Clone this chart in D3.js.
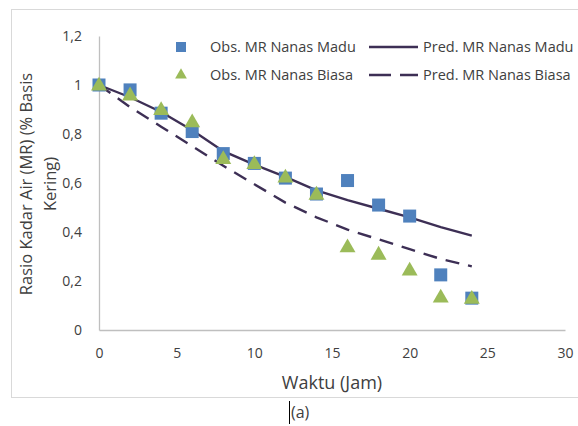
<!DOCTYPE html>
<html>
<head>
<meta charset="utf-8">
<script src="https://cdn.jsdelivr.net/npm/d3@7"></script>
<style>
  body { margin: 0; background: #fff; }
  text { font-family: "Open Sans", "Noto Sans", sans-serif; fill: #404040; }
</style>
</head>
<body>
<div id="chart"></div>
<script>
// time (hours)
var waktu = [0, 2, 4, 6, 8, 10, 12, 14, 16, 18, 20, 22, 24];

// observed and predicted moisture ratio
var obsMadu  = [1.0, 0.98, 0.885, 0.81, 0.72, 0.68, 0.62, 0.555, 0.61, 0.51, 0.465, 0.225, 0.13];
var obsBiasa = [1.0, 0.96, 0.90, 0.85, 0.70, 0.68, 0.625, 0.555, 0.34, 0.31, 0.245, 0.135, 0.13];
var predMadu  = [1.0, 0.95, 0.89, 0.815, 0.73, 0.675, 0.625, 0.57, 0.53, 0.495, 0.46, 0.42, 0.385];
var predBiasa = [1.0, 0.91, 0.83, 0.75, 0.67, 0.595, 0.52, 0.46, 0.41, 0.37, 0.33, 0.29, 0.26];

var xTicks = [0, 5, 10, 15, 20, 25, 30];
var yTicks = [0, 0.2, 0.4, 0.6, 0.8, 1, 1.2];

var legendItems = [
    { label: "Obs. MR Nanas Madu", type: "square" },
    { label: "Obs. MR Nanas Biasa", type: "triangle" },
    { label: "Pred. MR Nanas Madu", type: "solid" },
    { label: "Pred. MR Nanas Biasa", type: "dashed" }
];

var svgWidth = 578;
var svgHeight = 426;
var margin = { left: 99, top: 36, right: 13, bottom: 96 };
var chartWidth = svgWidth - margin.left - margin.right;
var chartHeight = svgHeight - margin.top - margin.bottom;

var blue = "#4f81bd";
var green = "#9bbb59";
var lineColor = "#3d2f55";

var svg = d3.select("#chart").append("svg")
    .attr("width", svgWidth)
    .attr("height", svgHeight);

// outer chart frame
svg.append("rect")
    .attr("x", 11.5).attr("y", 9.5)
    .attr("width", 580).attr("height", 388)
    .attr("fill", "none")
    .attr("stroke", "#d9d9d9");

var chartGroup = svg.append("g")
    .attr("transform", `translate(${margin.left}, ${margin.top})`);

var xScale = d3.scaleLinear().domain([0, 30]).range([0, chartWidth]);
var yScale = d3.scaleLinear().domain([0, 1.2]).range([chartHeight, 0]);

var fmt = d => d3.format(".1~f")(d).replace(".", ",");

// axes
var xAxis = d3.axisBottom(xScale).tickValues(xTicks).tickSize(0).tickPadding(18);
var yAxis = d3.axisLeft(yScale).tickValues(yTicks).tickSize(0).tickPadding(17).tickFormat(fmt);

var gx = chartGroup.append("g")
    .attr("transform", `translate(0, ${chartHeight})`)
    .call(xAxis);
var gy = chartGroup.append("g").call(yAxis);

[gx, gy].forEach(function (g) {
    g.select(".domain").attr("stroke", "#bfbfbf").attr("stroke-width", 1.3);
    g.selectAll("text").attr("font-size", "14px").attr("fill", "#404040")
        .attr("font-family", "'Open Sans', 'Noto Sans', sans-serif");
});

// prediction lines
var line = d3.line()
    .x((d, i) => xScale(waktu[i]))
    .y(d => yScale(d));

chartGroup.append("path")
    .datum(predMadu)
    .attr("d", line)
    .attr("fill", "none")
    .attr("stroke", lineColor)
    .attr("stroke-width", 2.4);

chartGroup.append("path")
    .datum(predBiasa)
    .attr("d", line)
    .attr("fill", "none")
    .attr("stroke", lineColor)
    .attr("stroke-width", 2.4)
    .attr("stroke-dasharray", "14,9");

// observed points
var sq = 13;
chartGroup.selectAll(".madu").data(obsMadu).enter()
    .append("rect")
    .attr("x", (d, i) => xScale(waktu[i]) - sq / 2)
    .attr("y", d => yScale(d) - sq / 2)
    .attr("width", sq)
    .attr("height", sq)
    .attr("fill", blue);

var tri = d3.symbol().type(d3.symbolTriangle).size(110);
chartGroup.selectAll(".biasa").data(obsBiasa).enter()
    .append("path")
    .attr("d", tri)
    .attr("transform", (d, i) => `translate(${xScale(waktu[i])}, ${yScale(d) + 1})`)
    .attr("fill", green);

// legend
var legendPos = [
    { x: 181, y: 47 }, { x: 181, y: 75 },
    { x: 369, y: 47 }, { x: 369, y: 75 }
];
legendItems.forEach(function (item, i) {
    var p = legendPos[i];
    var g = svg.append("g").attr("transform", `translate(${p.x}, ${p.y})`);
    var textX = 29;
    if (item.type === "square") {
        g.append("rect").attr("x", -5).attr("y", -5).attr("width", 10).attr("height", 10).attr("fill", blue);
    } else if (item.type === "triangle") {
        g.append("path").attr("d", d3.symbol().type(d3.symbolTriangle).size(60)).attr("fill", green);
    } else {
        g.append("line").attr("x1", 0).attr("x2", 49).attr("y1", 0).attr("y2", 0)
            .attr("stroke", lineColor).attr("stroke-width", 2.4)
            .attr("stroke-dasharray", item.type === "dashed" ? "22,9" : null);
        textX = 54;
    }
    g.append("text")
        .attr("x", textX)
        .attr("y", 5)
        .attr("font-size", "14.5px")
        .text(item.label);
});

// axis titles
svg.append("text")
    .attr("x", 332)
    .attr("y", 389)
    .attr("text-anchor", "middle")
    .attr("font-size", "18px")
    .text("Waktu (Jam)");

var yTitle = svg.append("text")
    .attr("transform", "translate(32, 184) rotate(-90)")
    .attr("text-anchor", "middle")
    .attr("font-size", "16.5px");
yTitle.append("tspan").attr("x", 0).attr("dy", 0).text("Rasio Kadar Air (MR) (% Basis");
yTitle.append("tspan").attr("x", 0).attr("dy", 24).text("Kering)");

// caption below the chart
svg.append("line")
    .attr("x1", 289.5).attr("x2", 289.5).attr("y1", 401).attr("y2", 424)
    .attr("stroke", "#000").attr("stroke-width", 1);
svg.append("text")
    .attr("x", 291)
    .attr("y", 418)
    .attr("font-size", "16px")
    .text("(a)");
</script>
</body>
</html>
